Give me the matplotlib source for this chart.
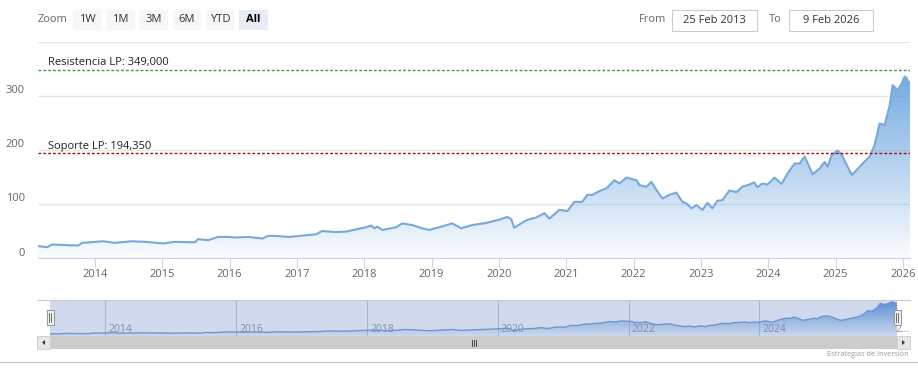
import numpy as np
import pandas as pd
import matplotlib
matplotlib.use("Agg")
import matplotlib.pyplot as plt
import matplotlib.dates as mdates
import matplotlib.transforms as mtrans
from matplotlib.patches import Rectangle
from matplotlib.colors import to_rgb

plt.rcParams['font.family'] = ['Open Sans', 'DejaVu Sans']

# price series
dates = [
    "2013-02-25", "2013-04-15", "2013-05-12", "2013-09-30", "2013-10-22", "2014-02-13",
    "2014-04-17", "2014-07-19", "2014-09-28", "2015-01-05", "2015-03-10", "2015-06-27",
    "2015-07-13", "2015-09-06", "2015-10-30", "2015-12-23", "2016-01-31", "2016-04-11",
    "2016-06-26", "2016-07-28", "2016-08-28", "2016-11-19", "2017-04-15", "2017-05-17",
    "2017-08-01", "2017-09-25", "2017-11-18", "2018-01-11", "2018-02-08", "2018-02-24",
    "2018-03-12", "2018-04-08", "2018-06-23", "2018-07-25", "2018-09-18", "2018-11-11",
    "2018-12-19", "2019-02-12", "2019-04-23", "2019-06-11", "2019-08-10", "2019-10-25",
    "2020-01-03", "2020-02-16", "2020-03-08", "2020-03-24", "2020-05-29", "2020-07-22",
    "2020-09-04", "2020-10-01", "2020-11-24", "2021-01-07", "2021-02-14", "2021-03-29",
    "2021-04-25", "2021-05-23", "2021-06-30", "2021-08-07", "2021-09-19", "2021-10-16",
    "2021-11-23", "2021-12-26", "2022-01-17", "2022-02-02", "2022-03-12", "2022-04-08",
    "2022-05-05", "2022-06-07", "2022-07-14", "2022-08-21", "2022-09-23", "2022-10-15",
    "2022-11-11", "2022-12-08", "2023-01-10", "2023-02-06", "2023-03-05", "2023-04-01",
    "2023-04-28", "2023-06-05", "2023-07-13", "2023-08-14", "2023-09-21", "2023-10-18",
    "2023-11-04", "2023-12-01", "2023-12-29", "2024-02-05", "2024-03-14", "2024-04-16",
    "2024-05-24", "2024-06-20", "2024-07-17", "2024-08-30", "2024-10-07", "2024-11-03",
    "2024-11-19", "2024-12-11", "2025-01-13", "2025-02-04", "2025-03-03", "2025-03-30",
    "2025-04-26", "2025-05-28", "2025-07-05", "2025-08-01", "2025-08-28", "2025-09-24",
    "2025-10-22", "2025-11-07", "2025-12-04", "2025-12-26", "2026-01-11", "2026-01-22",
    "2026-02-02", "2026-02-09",
]
prices = [
    22, 20, 25, 23, 28, 31,
    28, 31, 30, 27, 30, 29,
    35, 33, 39, 39, 38, 39,
    36, 41, 41, 39, 44, 50,
    48, 49, 53, 57, 60, 55,
    58, 52, 57, 64, 61, 55,
    52, 57, 64, 55, 61, 65,
    71, 76, 72, 56, 70, 75,
    83, 73, 89, 87, 104, 104,
    117, 117, 124, 129, 144, 138,
    149, 146, 144, 135, 132, 141,
    126, 110, 117, 121, 104, 101,
    92, 98, 89, 102, 92, 106,
    107, 125, 122, 132, 136, 140,
    131, 138, 136, 149, 137, 157,
    175, 175, 188, 155, 166, 178,
    169, 191, 199, 191, 172, 154,
    163, 175, 188, 209, 249, 246,
    283, 320, 311, 323, 336, 333,
    323, 326,
]

resistance = 349.0
support = 194.35
resistance_label = "Resistencia LP: 349,000"
support_label = "Soporte LP: 194,350"

y_ticks = [0, 100, 200, 300, 400]
y_tick_labels = ["0", "100", "200", "300", ""]
x_years = list(range(2014, 2027))
nav_years = [2014, 2016, 2018, 2020, 2022, 2024]

zoom_buttons = ["1W", "1M", "3M", "6M", "YTD", "All"]
range_from = "25 Feb 2013"
range_to = "9 Feb 2026"
credit = "Estrategias de Inversión"

W, H = 918, 377
fig = plt.figure(figsize=(W / 100, H / 100), dpi=100)


def box(x0, y0, x1, y1):
    # pixel box (top-left origin) -> figure fraction rect
    return [x0 / W, 1 - y1 / H, (x1 - x0) / W, (y1 - y0) / H]


def gradient_area(ax, x, y, ymax, base, line_color, lw):
    poly = ax.fill_between(x, y, 0, facecolor='none', edgecolor='none')
    n = 256
    img = np.zeros((n, 1, 4))
    img[:, 0, :3] = to_rgb(base)
    img[:, 0, 3] = np.linspace(0.03, 1.0, n)
    im = ax.imshow(img, extent=[x[0], x[-1], 0, ymax], origin='lower',
                   aspect='auto', zorder=1, interpolation='bilinear')
    im.set_clip_path(poly.get_paths()[0], transform=ax.transData)
    ax.plot(x, y, color=line_color, lw=lw, zorder=3, solid_joinstyle='round')


t = mdates.date2num(pd.to_datetime(dates))
p = np.array(prices, dtype=float)

# ---------------- main chart ----------------
ax = fig.add_axes(box(38, 42, 910, 258))
gradient_area(ax, t, p, 400, '#5b9bdc', '#78a9da', 1.5)
ax.set_xlim(t[0], t[-1])
ax.set_ylim(0, 400)
ax.set_yticks(y_ticks)
ax.yaxis.grid(True, color='#e6e6e6', lw=1)
ax.tick_params(axis='y', length=0, labelleft=False)
for s in ['top', 'left', 'right']:
    ax.spines[s].set_visible(False)
ax.spines['bottom'].set_color('#ccd6eb')
ax.set_axisbelow(True)

year_ticks = mdates.date2num(pd.to_datetime([f"{yr}-01-01" for yr in x_years]))
ax.set_xticks(year_ticks)
ax.set_xticklabels([str(yr) for yr in x_years])
ax.tick_params(axis='x', length=7, color='#ccd6eb', labelcolor='#666666',
               labelsize=8, pad=1)

ylab_tr = mtrans.offset_copy(ax.get_yaxis_transform(), fig=fig, x=-13, y=5, units='dots')
for v, lab in zip(y_ticks, y_tick_labels):
    ax.text(0, v, lab, transform=ylab_tr, ha='right', va='center',
            fontsize=8, color='#666666')

ax.axhline(resistance, color='#3d9b3d', lw=1, ls=(0, (2, 1.5)), zorder=4)
ax.axhline(support, color='#a01010', lw=1, ls=(0, (2, 1.5)), zorder=4)
lab_tr = mtrans.offset_copy(ax.get_yaxis_transform(), fig=fig, x=10, y=7, units='dots')
ax.text(0, resistance, resistance_label, transform=lab_tr, ha='left', va='center',
        fontsize=8, color='#222222')
ax.text(0, support, support_label, transform=lab_tr, ha='left', va='center',
        fontsize=8, color='#222222')

# ---------------- navigator ----------------
nav = fig.add_axes(box(50, 300, 897, 336))
nav_grid = mdates.date2num(pd.to_datetime([f"{yr}-01-01" for yr in nav_years]))
for g in nav_grid:
    nav.axvline(g, color='#c4cbd8', lw=0.8, zorder=0)
gradient_area(nav, t, p, 356, '#4f93dc', '#6f9fd8', 1.0)
nav.set_xlim(t[0], t[-1])
nav.set_ylim(0, 356)
nav.axis('off')
nl_tr = mtrans.offset_copy(nav.get_xaxis_transform(), fig=fig, x=3, y=7, units='dots')
for g, yr in zip(nav_grid, nav_years):
    nav.text(g, 0, str(yr), transform=nl_tr, ha='left', va='center',
             fontsize=7.5, color='#8a93a6', zorder=2)
nav.text(1, 0, "2…", transform=mtrans.offset_copy(nav.transAxes, fig=fig, x=-2, y=7, units='dots'),
         ha='left', va='center', fontsize=7.5, color='#8a93a6', clip_on=False)
nav.add_patch(Rectangle((0, 0), 1, 1, transform=nav.transAxes,
                        facecolor=(102 / 255, 133 / 255, 194 / 255, 0.3),
                        edgecolor='none', zorder=5))

# ---------------- UI chrome ----------------
ui = fig.add_axes([0, 0, 1, 1])
ui.set_xlim(0, W)
ui.set_ylim(H, 0)
ui.axis('off')

ui.text(38, 20, "Zoom", ha='left', va='center', fontsize=8, color='#666666')
for i, lab in enumerate(zoom_buttons):
    bx = 73 + i * 33.2
    sel = lab == "All"
    ui.add_patch(Rectangle((bx, 10), 28.5, 20, facecolor='#e6ebf5' if sel else '#f7f7f7',
                           edgecolor='none'))
    ui.text(bx + 14.25, 20, lab, ha='center', va='center', fontsize=8,
            color='#000000' if sel else '#333333', fontweight='bold' if sel else 'normal')

ui.text(666, 20, "From", ha='right', va='center', fontsize=8, color='#666666')
ui.add_patch(Rectangle((672, 10), 85, 21, facecolor='white', edgecolor='#cccccc', lw=0.8))
ui.text(714.5, 20.5, range_from, ha='center', va='center', fontsize=8, color='#333333')
ui.text(782, 20, "To", ha='right', va='center', fontsize=8, color='#666666')
ui.add_patch(Rectangle((789, 10), 84, 21, facecolor='white', edgecolor='#cccccc', lw=0.8))
ui.text(831, 20.5, range_to, ha='center', va='center', fontsize=8, color='#333333')

# navigator outline and handles
ui.plot([37, 910], [300, 300], color='#cccccc', lw=0.8)
for hx in (50, 897):
    ui.add_patch(Rectangle((hx - 3.5, 310), 7, 15, facecolor='#f2f2f2', edgecolor='#999999', lw=0.8))
    ui.plot([hx - 1, hx - 1], [313, 322], color='#333333', lw=0.5)
    ui.plot([hx + 1, hx + 1], [313, 322], color='#333333', lw=0.5)

# scrollbar
ui.add_patch(Rectangle((37, 336), 873, 13, facecolor='#f2f2f2', edgecolor='none'))
ui.add_patch(Rectangle((50, 336), 847, 13, facecolor='#cccccc', edgecolor='none'))
for bx in (37, 897):
    ui.add_patch(Rectangle((bx, 336), 13, 13, facecolor='#e6e6e6', edgecolor='#cccccc', lw=0.6))
ui.fill([45, 45, 42], [340, 345, 342.5], color='#333333', lw=0)
ui.fill([902, 902, 905], [340, 345, 342.5], color='#333333', lw=0)
for gx in (471.5, 473.5, 475.5):
    ui.plot([gx, gx], [339.5, 345.5], color='#333333', lw=0.6)

ui.text(909, 354, credit, ha='right', va='center', fontsize=5.3, color='#999999')
ui.plot([0, W], [362, 362], color='#cccccc', lw=1)

fig.savefig("out.png", dpi=100)
